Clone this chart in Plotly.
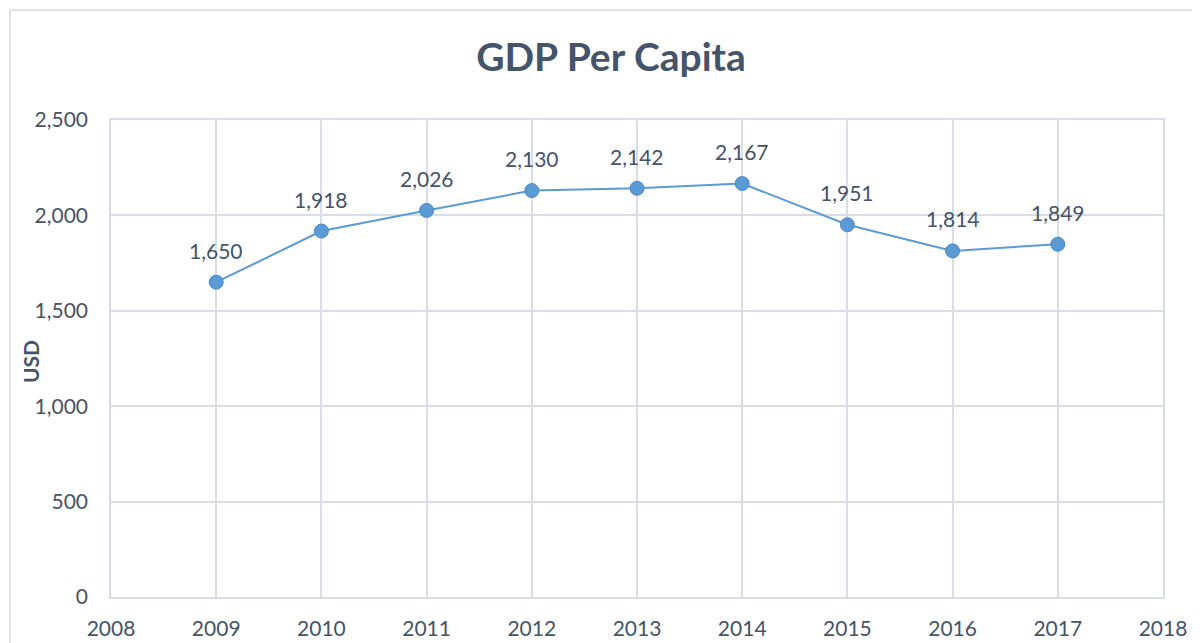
import plotly.graph_objects as go

years = [2009, 2010, 2011, 2012, 2013, 2014, 2015, 2016, 2017]
gdp_per_capita = [1650, 1918, 2026, 2130, 2142, 2167, 1951, 1814, 1849]
x_ticks = list(range(2008, 2019))
y_ticks = [0, 500, 1000, 1500, 2000, 2500]

FONT = "Lato, 'Open Sans', sans-serif"
TXT = "#44546A"
GRID = "#D9DEE6"
BLUE = "#5B9BD5"

# page has an 8px body margin; figure sized so plot area lands at 111..1163 x 120..597
W, H = 1192, 635
L, R, T, B = 103, 37, 112, 46
PW, PH = W - L - R, H - T - B

fig = go.Figure()
fig.add_trace(go.Scatter(
    x=years, y=gdp_per_capita, mode="lines+markers",
    line=dict(color=BLUE, width=2),
    marker=dict(size=14, color=BLUE, line=dict(color="#4A89C8", width=1)),
    hoverinfo="x+y", showlegend=False,
))
for xv, yv in zip(years, gdp_per_capita):
    fig.add_annotation(x=xv, y=yv, text=f"{yv:,}", showarrow=False,
                       yshift=32, font=dict(family=FONT, size=21, color=TXT))

# y-axis title placed as a rotated annotation
fig.add_annotation(xref="paper", yref="paper", x=(22 - L) / PW, y=(H - B - 354) / PH,
                   text="<b>USD</b>", textangle=-90, showarrow=False,
                   xanchor="center", yanchor="middle",
                   font=dict(family=FONT, size=21, color=TXT))

fig.update_layout(
    width=W, height=H,
    margin=dict(l=L, r=R, t=T, b=B),
    paper_bgcolor="white", plot_bgcolor="white",
    title=dict(text="<b>GDP Per Capita</b>", x=(611 - 111) / 1052, xref="paper", xanchor="center",
               y=1 - 49 / H, yanchor="middle",
               font=dict(family=FONT, size=39, color=TXT)),
    font=dict(family=FONT, color=TXT),
    xaxis=dict(range=[2008, 2018], tickvals=x_ticks, ticktext=[str(t) for t in x_ticks],
               automargin=False,
               showgrid=True, gridcolor=GRID, gridwidth=1.5, zeroline=False,
               showline=True, linecolor=GRID, linewidth=1.5, mirror=True,
               ticks="outside", ticklen=12, tickcolor="rgba(0,0,0,0)",
               tickfont=dict(family=FONT, size=21, color=TXT)),
    yaxis=dict(range=[0, 2500], tickvals=y_ticks, tickformat=",",
               automargin=False,
               showgrid=True, gridcolor=GRID, gridwidth=1.5, zeroline=False,
               showline=True, linecolor=GRID, linewidth=1.5, mirror=True,
               ticks="outside", ticklen=17, tickcolor="rgba(0,0,0,0)",
               tickfont=dict(family=FONT, size=21, color=TXT)),
)
fig.add_shape(type="rect", xref="paper", yref="paper",
              x0=(2 - L) / PW, x1=(1210 - L) / PW,
              y0=(PH + 0 - 700) / PH, y1=(T + PH - 2) / PH,
              line=dict(color="#D9D9D9", width=1.5), fillcolor="rgba(0,0,0,0)", layer="below")
fig.write_html("out.html")
